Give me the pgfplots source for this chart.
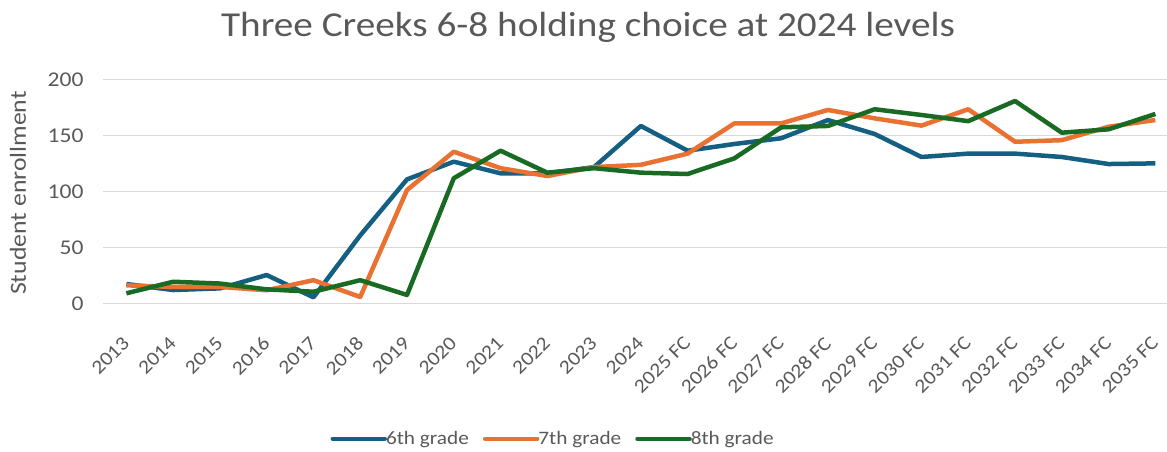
\documentclass[border=0pt]{standalone}
\usepackage{pgfplots}
\pgfplotsset{compat=1.18}
\usepackage{fontspec}
\setmainfont{Carlito}[FakeStretch=1.12]
\definecolor{cBlue}{HTML}{156082}
\definecolor{cOrange}{HTML}{E97132}
\definecolor{cGreen}{HTML}{196B24}
\definecolor{txt}{HTML}{595959}
\definecolor{grd}{HTML}{D9D9D9}
\pgfplotstableread{
x six seven eight
0 17.6 16.4 9.3
1 12.2 15.0 19.6
2 13.7 15.0 18.0
3 25.6 12.0 12.8
4 5.7 21.0 10.7
5 61.0 6.0 21.0
6 111.0 101.5 7.8
7 126.8 135.7 112.0
8 116.4 121.0 136.6
9 116.4 114.0 117.0
10 122.0 122.0 121.0
11 158.7 124.0 117.0
12 136.6 134.0 115.8
13 142.6 161.0 129.8
14 147.7 161.0 157.5
15 164.0 173.0 158.7
16 151.5 165.5 173.6
17 131.0 159.0 168.5
18 134.0 173.6 163.0
19 134.0 144.6 181.0
20 131.0 146.0 152.7
21 124.7 158.0 155.7
22 125.3 164.0 169.4
}\data
\begin{document}
\begin{tikzpicture}[x=1pt,y=1pt]
\useasboundingbox (0,0) rectangle (1167,451);
\node[text=txt,font=\fontsize{35}{40}\selectfont,anchor=base] at (588,414) {Three Creeks 6-8 holding choice at 2024 levels};
\node[text=txt,font=\fontsize{23}{26}\selectfont,rotate=90] at (18,258) {Student enrollment};
\begin{axis}[
  at={(103pt,147.3pt)}, anchor=south west,
  scale only axis, width=1064pt, height=224pt,
  xmin=-0.5, xmax=22.25, ymin=0, ymax=200,
  ytick={0,50,100,150,200},
  xtick={0,...,22},
  xticklabels={2013,2014,2015,2016,2017,2018,2019,2020,2021,2022,2023,2024,2025 FC,2026 FC,2027 FC,2028 FC,2029 FC,2030 FC,2031 FC,2032 FC,2033 FC,2034 FC,2035 FC},
  xticklabel style={xshift=-5pt, yshift=-30pt, rotate=45, anchor=north east, inner sep=1pt, font=\fontsize{19.5}{22}\selectfont, text=txt},
  yticklabel style={xshift=-16pt, font=\fontsize{21}{24}\selectfont, text=txt},
  /pgf/number format/assume math mode=true,
  axis line style={draw=none},
  tick style={draw=none},
  ymajorgrids, grid style={grd, line width=1.3pt},
  clip=false,
  legend columns=3,
  legend style={draw=none, fill=none, at={(0.423,-0.603)}, anchor=center, font=\fontsize{19}{23}\selectfont, text=txt, inner sep=0pt, /tikz/every even column/.append style={column sep=12pt}, /tikz/every odd column/.append style={column sep=-3pt}},
  legend image code/.code={\draw[#1, line cap=round] (0pt,0pt) -- (52pt,0pt);},
]
\addplot[cBlue, line width=4.5pt, line join=round] table[x=x,y=six]{\data};
\addlegendentry{6th grade}
\addplot[cOrange, line width=4.5pt, line join=round] table[x=x,y=seven]{\data};
\addlegendentry{7th grade}
\addplot[cGreen, line width=4.5pt, line join=round] table[x=x,y=eight]{\data};
\addlegendentry{8th grade}
\end{axis}
\end{tikzpicture}
\end{document}
